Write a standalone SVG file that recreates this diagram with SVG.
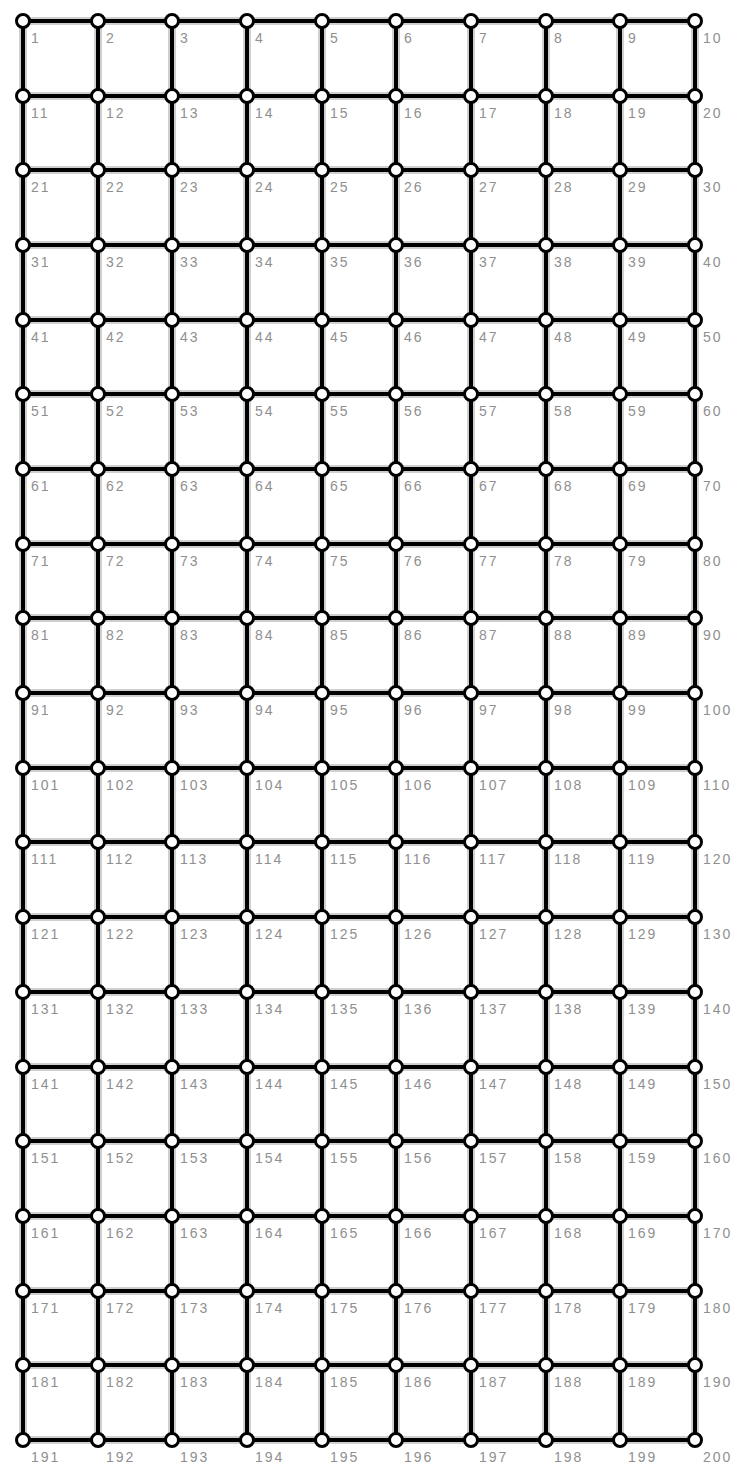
<svg xmlns="http://www.w3.org/2000/svg" width="740" height="1467" viewBox="0 0 740 1467">
<style>
.halo{stroke:#cfcfcf;stroke-width:8;fill:none;stroke-linecap:butt}
.edge{stroke:#000;stroke-width:4;fill:none}
.nd circle{fill:#fff;stroke:#000;stroke-width:3}
.nd text{font-family:"Liberation Sans",Arial,sans-serif;font-size:14px;fill:#8f8f8f;letter-spacing:2px}
</style>
<rect width="740" height="1467" fill="#fff"/>
<g id="connectors">
<path class="halo" d="M23 21H695M23 96H695M23 170H695M23 245H695M23 320H695M23 394H695M23 469H695M23 544H695M23 618H695M23 693H695M23 768H695M23 842H695M23 917H695M23 992H695M23 1067H695M23 1141H695M23 1216H695M23 1291H695M23 1365H695M23 1440H695M23 21V1440M98 21V1440M172 21V1440M247 21V1440M322 21V1440M396 21V1440M471 21V1440M546 21V1440M620 21V1440M695 21V1440"/>
<line class="edge" x1="23" y1="21" x2="98" y2="21"/><line class="edge" x1="98" y1="21" x2="172" y2="21"/><line class="edge" x1="172" y1="21" x2="247" y2="21"/><line class="edge" x1="247" y1="21" x2="322" y2="21"/><line class="edge" x1="322" y1="21" x2="396" y2="21"/><line class="edge" x1="396" y1="21" x2="471" y2="21"/><line class="edge" x1="471" y1="21" x2="546" y2="21"/><line class="edge" x1="546" y1="21" x2="620" y2="21"/><line class="edge" x1="620" y1="21" x2="695" y2="21"/>
<line class="edge" x1="23" y1="96" x2="98" y2="96"/><line class="edge" x1="98" y1="96" x2="172" y2="96"/><line class="edge" x1="172" y1="96" x2="247" y2="96"/><line class="edge" x1="247" y1="96" x2="322" y2="96"/><line class="edge" x1="322" y1="96" x2="396" y2="96"/><line class="edge" x1="396" y1="96" x2="471" y2="96"/><line class="edge" x1="471" y1="96" x2="546" y2="96"/><line class="edge" x1="546" y1="96" x2="620" y2="96"/><line class="edge" x1="620" y1="96" x2="695" y2="96"/>
<line class="edge" x1="23" y1="170" x2="98" y2="170"/><line class="edge" x1="98" y1="170" x2="172" y2="170"/><line class="edge" x1="172" y1="170" x2="247" y2="170"/><line class="edge" x1="247" y1="170" x2="322" y2="170"/><line class="edge" x1="322" y1="170" x2="396" y2="170"/><line class="edge" x1="396" y1="170" x2="471" y2="170"/><line class="edge" x1="471" y1="170" x2="546" y2="170"/><line class="edge" x1="546" y1="170" x2="620" y2="170"/><line class="edge" x1="620" y1="170" x2="695" y2="170"/>
<line class="edge" x1="23" y1="245" x2="98" y2="245"/><line class="edge" x1="98" y1="245" x2="172" y2="245"/><line class="edge" x1="172" y1="245" x2="247" y2="245"/><line class="edge" x1="247" y1="245" x2="322" y2="245"/><line class="edge" x1="322" y1="245" x2="396" y2="245"/><line class="edge" x1="396" y1="245" x2="471" y2="245"/><line class="edge" x1="471" y1="245" x2="546" y2="245"/><line class="edge" x1="546" y1="245" x2="620" y2="245"/><line class="edge" x1="620" y1="245" x2="695" y2="245"/>
<line class="edge" x1="23" y1="320" x2="98" y2="320"/><line class="edge" x1="98" y1="320" x2="172" y2="320"/><line class="edge" x1="172" y1="320" x2="247" y2="320"/><line class="edge" x1="247" y1="320" x2="322" y2="320"/><line class="edge" x1="322" y1="320" x2="396" y2="320"/><line class="edge" x1="396" y1="320" x2="471" y2="320"/><line class="edge" x1="471" y1="320" x2="546" y2="320"/><line class="edge" x1="546" y1="320" x2="620" y2="320"/><line class="edge" x1="620" y1="320" x2="695" y2="320"/>
<line class="edge" x1="23" y1="394" x2="98" y2="394"/><line class="edge" x1="98" y1="394" x2="172" y2="394"/><line class="edge" x1="172" y1="394" x2="247" y2="394"/><line class="edge" x1="247" y1="394" x2="322" y2="394"/><line class="edge" x1="322" y1="394" x2="396" y2="394"/><line class="edge" x1="396" y1="394" x2="471" y2="394"/><line class="edge" x1="471" y1="394" x2="546" y2="394"/><line class="edge" x1="546" y1="394" x2="620" y2="394"/><line class="edge" x1="620" y1="394" x2="695" y2="394"/>
<line class="edge" x1="23" y1="469" x2="98" y2="469"/><line class="edge" x1="98" y1="469" x2="172" y2="469"/><line class="edge" x1="172" y1="469" x2="247" y2="469"/><line class="edge" x1="247" y1="469" x2="322" y2="469"/><line class="edge" x1="322" y1="469" x2="396" y2="469"/><line class="edge" x1="396" y1="469" x2="471" y2="469"/><line class="edge" x1="471" y1="469" x2="546" y2="469"/><line class="edge" x1="546" y1="469" x2="620" y2="469"/><line class="edge" x1="620" y1="469" x2="695" y2="469"/>
<line class="edge" x1="23" y1="544" x2="98" y2="544"/><line class="edge" x1="98" y1="544" x2="172" y2="544"/><line class="edge" x1="172" y1="544" x2="247" y2="544"/><line class="edge" x1="247" y1="544" x2="322" y2="544"/><line class="edge" x1="322" y1="544" x2="396" y2="544"/><line class="edge" x1="396" y1="544" x2="471" y2="544"/><line class="edge" x1="471" y1="544" x2="546" y2="544"/><line class="edge" x1="546" y1="544" x2="620" y2="544"/><line class="edge" x1="620" y1="544" x2="695" y2="544"/>
<line class="edge" x1="23" y1="618" x2="98" y2="618"/><line class="edge" x1="98" y1="618" x2="172" y2="618"/><line class="edge" x1="172" y1="618" x2="247" y2="618"/><line class="edge" x1="247" y1="618" x2="322" y2="618"/><line class="edge" x1="322" y1="618" x2="396" y2="618"/><line class="edge" x1="396" y1="618" x2="471" y2="618"/><line class="edge" x1="471" y1="618" x2="546" y2="618"/><line class="edge" x1="546" y1="618" x2="620" y2="618"/><line class="edge" x1="620" y1="618" x2="695" y2="618"/>
<line class="edge" x1="23" y1="693" x2="98" y2="693"/><line class="edge" x1="98" y1="693" x2="172" y2="693"/><line class="edge" x1="172" y1="693" x2="247" y2="693"/><line class="edge" x1="247" y1="693" x2="322" y2="693"/><line class="edge" x1="322" y1="693" x2="396" y2="693"/><line class="edge" x1="396" y1="693" x2="471" y2="693"/><line class="edge" x1="471" y1="693" x2="546" y2="693"/><line class="edge" x1="546" y1="693" x2="620" y2="693"/><line class="edge" x1="620" y1="693" x2="695" y2="693"/>
<line class="edge" x1="23" y1="768" x2="98" y2="768"/><line class="edge" x1="98" y1="768" x2="172" y2="768"/><line class="edge" x1="172" y1="768" x2="247" y2="768"/><line class="edge" x1="247" y1="768" x2="322" y2="768"/><line class="edge" x1="322" y1="768" x2="396" y2="768"/><line class="edge" x1="396" y1="768" x2="471" y2="768"/><line class="edge" x1="471" y1="768" x2="546" y2="768"/><line class="edge" x1="546" y1="768" x2="620" y2="768"/><line class="edge" x1="620" y1="768" x2="695" y2="768"/>
<line class="edge" x1="23" y1="842" x2="98" y2="842"/><line class="edge" x1="98" y1="842" x2="172" y2="842"/><line class="edge" x1="172" y1="842" x2="247" y2="842"/><line class="edge" x1="247" y1="842" x2="322" y2="842"/><line class="edge" x1="322" y1="842" x2="396" y2="842"/><line class="edge" x1="396" y1="842" x2="471" y2="842"/><line class="edge" x1="471" y1="842" x2="546" y2="842"/><line class="edge" x1="546" y1="842" x2="620" y2="842"/><line class="edge" x1="620" y1="842" x2="695" y2="842"/>
<line class="edge" x1="23" y1="917" x2="98" y2="917"/><line class="edge" x1="98" y1="917" x2="172" y2="917"/><line class="edge" x1="172" y1="917" x2="247" y2="917"/><line class="edge" x1="247" y1="917" x2="322" y2="917"/><line class="edge" x1="322" y1="917" x2="396" y2="917"/><line class="edge" x1="396" y1="917" x2="471" y2="917"/><line class="edge" x1="471" y1="917" x2="546" y2="917"/><line class="edge" x1="546" y1="917" x2="620" y2="917"/><line class="edge" x1="620" y1="917" x2="695" y2="917"/>
<line class="edge" x1="23" y1="992" x2="98" y2="992"/><line class="edge" x1="98" y1="992" x2="172" y2="992"/><line class="edge" x1="172" y1="992" x2="247" y2="992"/><line class="edge" x1="247" y1="992" x2="322" y2="992"/><line class="edge" x1="322" y1="992" x2="396" y2="992"/><line class="edge" x1="396" y1="992" x2="471" y2="992"/><line class="edge" x1="471" y1="992" x2="546" y2="992"/><line class="edge" x1="546" y1="992" x2="620" y2="992"/><line class="edge" x1="620" y1="992" x2="695" y2="992"/>
<line class="edge" x1="23" y1="1067" x2="98" y2="1067"/><line class="edge" x1="98" y1="1067" x2="172" y2="1067"/><line class="edge" x1="172" y1="1067" x2="247" y2="1067"/><line class="edge" x1="247" y1="1067" x2="322" y2="1067"/><line class="edge" x1="322" y1="1067" x2="396" y2="1067"/><line class="edge" x1="396" y1="1067" x2="471" y2="1067"/><line class="edge" x1="471" y1="1067" x2="546" y2="1067"/><line class="edge" x1="546" y1="1067" x2="620" y2="1067"/><line class="edge" x1="620" y1="1067" x2="695" y2="1067"/>
<line class="edge" x1="23" y1="1141" x2="98" y2="1141"/><line class="edge" x1="98" y1="1141" x2="172" y2="1141"/><line class="edge" x1="172" y1="1141" x2="247" y2="1141"/><line class="edge" x1="247" y1="1141" x2="322" y2="1141"/><line class="edge" x1="322" y1="1141" x2="396" y2="1141"/><line class="edge" x1="396" y1="1141" x2="471" y2="1141"/><line class="edge" x1="471" y1="1141" x2="546" y2="1141"/><line class="edge" x1="546" y1="1141" x2="620" y2="1141"/><line class="edge" x1="620" y1="1141" x2="695" y2="1141"/>
<line class="edge" x1="23" y1="1216" x2="98" y2="1216"/><line class="edge" x1="98" y1="1216" x2="172" y2="1216"/><line class="edge" x1="172" y1="1216" x2="247" y2="1216"/><line class="edge" x1="247" y1="1216" x2="322" y2="1216"/><line class="edge" x1="322" y1="1216" x2="396" y2="1216"/><line class="edge" x1="396" y1="1216" x2="471" y2="1216"/><line class="edge" x1="471" y1="1216" x2="546" y2="1216"/><line class="edge" x1="546" y1="1216" x2="620" y2="1216"/><line class="edge" x1="620" y1="1216" x2="695" y2="1216"/>
<line class="edge" x1="23" y1="1291" x2="98" y2="1291"/><line class="edge" x1="98" y1="1291" x2="172" y2="1291"/><line class="edge" x1="172" y1="1291" x2="247" y2="1291"/><line class="edge" x1="247" y1="1291" x2="322" y2="1291"/><line class="edge" x1="322" y1="1291" x2="396" y2="1291"/><line class="edge" x1="396" y1="1291" x2="471" y2="1291"/><line class="edge" x1="471" y1="1291" x2="546" y2="1291"/><line class="edge" x1="546" y1="1291" x2="620" y2="1291"/><line class="edge" x1="620" y1="1291" x2="695" y2="1291"/>
<line class="edge" x1="23" y1="1365" x2="98" y2="1365"/><line class="edge" x1="98" y1="1365" x2="172" y2="1365"/><line class="edge" x1="172" y1="1365" x2="247" y2="1365"/><line class="edge" x1="247" y1="1365" x2="322" y2="1365"/><line class="edge" x1="322" y1="1365" x2="396" y2="1365"/><line class="edge" x1="396" y1="1365" x2="471" y2="1365"/><line class="edge" x1="471" y1="1365" x2="546" y2="1365"/><line class="edge" x1="546" y1="1365" x2="620" y2="1365"/><line class="edge" x1="620" y1="1365" x2="695" y2="1365"/>
<line class="edge" x1="23" y1="1440" x2="98" y2="1440"/><line class="edge" x1="98" y1="1440" x2="172" y2="1440"/><line class="edge" x1="172" y1="1440" x2="247" y2="1440"/><line class="edge" x1="247" y1="1440" x2="322" y2="1440"/><line class="edge" x1="322" y1="1440" x2="396" y2="1440"/><line class="edge" x1="396" y1="1440" x2="471" y2="1440"/><line class="edge" x1="471" y1="1440" x2="546" y2="1440"/><line class="edge" x1="546" y1="1440" x2="620" y2="1440"/><line class="edge" x1="620" y1="1440" x2="695" y2="1440"/>
<line class="edge" x1="23" y1="21" x2="23" y2="96"/><line class="edge" x1="23" y1="96" x2="23" y2="170"/><line class="edge" x1="23" y1="170" x2="23" y2="245"/><line class="edge" x1="23" y1="245" x2="23" y2="320"/><line class="edge" x1="23" y1="320" x2="23" y2="394"/><line class="edge" x1="23" y1="394" x2="23" y2="469"/><line class="edge" x1="23" y1="469" x2="23" y2="544"/><line class="edge" x1="23" y1="544" x2="23" y2="618"/><line class="edge" x1="23" y1="618" x2="23" y2="693"/><line class="edge" x1="23" y1="693" x2="23" y2="768"/><line class="edge" x1="23" y1="768" x2="23" y2="842"/><line class="edge" x1="23" y1="842" x2="23" y2="917"/><line class="edge" x1="23" y1="917" x2="23" y2="992"/><line class="edge" x1="23" y1="992" x2="23" y2="1067"/><line class="edge" x1="23" y1="1067" x2="23" y2="1141"/><line class="edge" x1="23" y1="1141" x2="23" y2="1216"/><line class="edge" x1="23" y1="1216" x2="23" y2="1291"/><line class="edge" x1="23" y1="1291" x2="23" y2="1365"/><line class="edge" x1="23" y1="1365" x2="23" y2="1440"/>
<line class="edge" x1="98" y1="21" x2="98" y2="96"/><line class="edge" x1="98" y1="96" x2="98" y2="170"/><line class="edge" x1="98" y1="170" x2="98" y2="245"/><line class="edge" x1="98" y1="245" x2="98" y2="320"/><line class="edge" x1="98" y1="320" x2="98" y2="394"/><line class="edge" x1="98" y1="394" x2="98" y2="469"/><line class="edge" x1="98" y1="469" x2="98" y2="544"/><line class="edge" x1="98" y1="544" x2="98" y2="618"/><line class="edge" x1="98" y1="618" x2="98" y2="693"/><line class="edge" x1="98" y1="693" x2="98" y2="768"/><line class="edge" x1="98" y1="768" x2="98" y2="842"/><line class="edge" x1="98" y1="842" x2="98" y2="917"/><line class="edge" x1="98" y1="917" x2="98" y2="992"/><line class="edge" x1="98" y1="992" x2="98" y2="1067"/><line class="edge" x1="98" y1="1067" x2="98" y2="1141"/><line class="edge" x1="98" y1="1141" x2="98" y2="1216"/><line class="edge" x1="98" y1="1216" x2="98" y2="1291"/><line class="edge" x1="98" y1="1291" x2="98" y2="1365"/><line class="edge" x1="98" y1="1365" x2="98" y2="1440"/>
<line class="edge" x1="172" y1="21" x2="172" y2="96"/><line class="edge" x1="172" y1="96" x2="172" y2="170"/><line class="edge" x1="172" y1="170" x2="172" y2="245"/><line class="edge" x1="172" y1="245" x2="172" y2="320"/><line class="edge" x1="172" y1="320" x2="172" y2="394"/><line class="edge" x1="172" y1="394" x2="172" y2="469"/><line class="edge" x1="172" y1="469" x2="172" y2="544"/><line class="edge" x1="172" y1="544" x2="172" y2="618"/><line class="edge" x1="172" y1="618" x2="172" y2="693"/><line class="edge" x1="172" y1="693" x2="172" y2="768"/><line class="edge" x1="172" y1="768" x2="172" y2="842"/><line class="edge" x1="172" y1="842" x2="172" y2="917"/><line class="edge" x1="172" y1="917" x2="172" y2="992"/><line class="edge" x1="172" y1="992" x2="172" y2="1067"/><line class="edge" x1="172" y1="1067" x2="172" y2="1141"/><line class="edge" x1="172" y1="1141" x2="172" y2="1216"/><line class="edge" x1="172" y1="1216" x2="172" y2="1291"/><line class="edge" x1="172" y1="1291" x2="172" y2="1365"/><line class="edge" x1="172" y1="1365" x2="172" y2="1440"/>
<line class="edge" x1="247" y1="21" x2="247" y2="96"/><line class="edge" x1="247" y1="96" x2="247" y2="170"/><line class="edge" x1="247" y1="170" x2="247" y2="245"/><line class="edge" x1="247" y1="245" x2="247" y2="320"/><line class="edge" x1="247" y1="320" x2="247" y2="394"/><line class="edge" x1="247" y1="394" x2="247" y2="469"/><line class="edge" x1="247" y1="469" x2="247" y2="544"/><line class="edge" x1="247" y1="544" x2="247" y2="618"/><line class="edge" x1="247" y1="618" x2="247" y2="693"/><line class="edge" x1="247" y1="693" x2="247" y2="768"/><line class="edge" x1="247" y1="768" x2="247" y2="842"/><line class="edge" x1="247" y1="842" x2="247" y2="917"/><line class="edge" x1="247" y1="917" x2="247" y2="992"/><line class="edge" x1="247" y1="992" x2="247" y2="1067"/><line class="edge" x1="247" y1="1067" x2="247" y2="1141"/><line class="edge" x1="247" y1="1141" x2="247" y2="1216"/><line class="edge" x1="247" y1="1216" x2="247" y2="1291"/><line class="edge" x1="247" y1="1291" x2="247" y2="1365"/><line class="edge" x1="247" y1="1365" x2="247" y2="1440"/>
<line class="edge" x1="322" y1="21" x2="322" y2="96"/><line class="edge" x1="322" y1="96" x2="322" y2="170"/><line class="edge" x1="322" y1="170" x2="322" y2="245"/><line class="edge" x1="322" y1="245" x2="322" y2="320"/><line class="edge" x1="322" y1="320" x2="322" y2="394"/><line class="edge" x1="322" y1="394" x2="322" y2="469"/><line class="edge" x1="322" y1="469" x2="322" y2="544"/><line class="edge" x1="322" y1="544" x2="322" y2="618"/><line class="edge" x1="322" y1="618" x2="322" y2="693"/><line class="edge" x1="322" y1="693" x2="322" y2="768"/><line class="edge" x1="322" y1="768" x2="322" y2="842"/><line class="edge" x1="322" y1="842" x2="322" y2="917"/><line class="edge" x1="322" y1="917" x2="322" y2="992"/><line class="edge" x1="322" y1="992" x2="322" y2="1067"/><line class="edge" x1="322" y1="1067" x2="322" y2="1141"/><line class="edge" x1="322" y1="1141" x2="322" y2="1216"/><line class="edge" x1="322" y1="1216" x2="322" y2="1291"/><line class="edge" x1="322" y1="1291" x2="322" y2="1365"/><line class="edge" x1="322" y1="1365" x2="322" y2="1440"/>
<line class="edge" x1="396" y1="21" x2="396" y2="96"/><line class="edge" x1="396" y1="96" x2="396" y2="170"/><line class="edge" x1="396" y1="170" x2="396" y2="245"/><line class="edge" x1="396" y1="245" x2="396" y2="320"/><line class="edge" x1="396" y1="320" x2="396" y2="394"/><line class="edge" x1="396" y1="394" x2="396" y2="469"/><line class="edge" x1="396" y1="469" x2="396" y2="544"/><line class="edge" x1="396" y1="544" x2="396" y2="618"/><line class="edge" x1="396" y1="618" x2="396" y2="693"/><line class="edge" x1="396" y1="693" x2="396" y2="768"/><line class="edge" x1="396" y1="768" x2="396" y2="842"/><line class="edge" x1="396" y1="842" x2="396" y2="917"/><line class="edge" x1="396" y1="917" x2="396" y2="992"/><line class="edge" x1="396" y1="992" x2="396" y2="1067"/><line class="edge" x1="396" y1="1067" x2="396" y2="1141"/><line class="edge" x1="396" y1="1141" x2="396" y2="1216"/><line class="edge" x1="396" y1="1216" x2="396" y2="1291"/><line class="edge" x1="396" y1="1291" x2="396" y2="1365"/><line class="edge" x1="396" y1="1365" x2="396" y2="1440"/>
<line class="edge" x1="471" y1="21" x2="471" y2="96"/><line class="edge" x1="471" y1="96" x2="471" y2="170"/><line class="edge" x1="471" y1="170" x2="471" y2="245"/><line class="edge" x1="471" y1="245" x2="471" y2="320"/><line class="edge" x1="471" y1="320" x2="471" y2="394"/><line class="edge" x1="471" y1="394" x2="471" y2="469"/><line class="edge" x1="471" y1="469" x2="471" y2="544"/><line class="edge" x1="471" y1="544" x2="471" y2="618"/><line class="edge" x1="471" y1="618" x2="471" y2="693"/><line class="edge" x1="471" y1="693" x2="471" y2="768"/><line class="edge" x1="471" y1="768" x2="471" y2="842"/><line class="edge" x1="471" y1="842" x2="471" y2="917"/><line class="edge" x1="471" y1="917" x2="471" y2="992"/><line class="edge" x1="471" y1="992" x2="471" y2="1067"/><line class="edge" x1="471" y1="1067" x2="471" y2="1141"/><line class="edge" x1="471" y1="1141" x2="471" y2="1216"/><line class="edge" x1="471" y1="1216" x2="471" y2="1291"/><line class="edge" x1="471" y1="1291" x2="471" y2="1365"/><line class="edge" x1="471" y1="1365" x2="471" y2="1440"/>
<line class="edge" x1="546" y1="21" x2="546" y2="96"/><line class="edge" x1="546" y1="96" x2="546" y2="170"/><line class="edge" x1="546" y1="170" x2="546" y2="245"/><line class="edge" x1="546" y1="245" x2="546" y2="320"/><line class="edge" x1="546" y1="320" x2="546" y2="394"/><line class="edge" x1="546" y1="394" x2="546" y2="469"/><line class="edge" x1="546" y1="469" x2="546" y2="544"/><line class="edge" x1="546" y1="544" x2="546" y2="618"/><line class="edge" x1="546" y1="618" x2="546" y2="693"/><line class="edge" x1="546" y1="693" x2="546" y2="768"/><line class="edge" x1="546" y1="768" x2="546" y2="842"/><line class="edge" x1="546" y1="842" x2="546" y2="917"/><line class="edge" x1="546" y1="917" x2="546" y2="992"/><line class="edge" x1="546" y1="992" x2="546" y2="1067"/><line class="edge" x1="546" y1="1067" x2="546" y2="1141"/><line class="edge" x1="546" y1="1141" x2="546" y2="1216"/><line class="edge" x1="546" y1="1216" x2="546" y2="1291"/><line class="edge" x1="546" y1="1291" x2="546" y2="1365"/><line class="edge" x1="546" y1="1365" x2="546" y2="1440"/>
<line class="edge" x1="620" y1="21" x2="620" y2="96"/><line class="edge" x1="620" y1="96" x2="620" y2="170"/><line class="edge" x1="620" y1="170" x2="620" y2="245"/><line class="edge" x1="620" y1="245" x2="620" y2="320"/><line class="edge" x1="620" y1="320" x2="620" y2="394"/><line class="edge" x1="620" y1="394" x2="620" y2="469"/><line class="edge" x1="620" y1="469" x2="620" y2="544"/><line class="edge" x1="620" y1="544" x2="620" y2="618"/><line class="edge" x1="620" y1="618" x2="620" y2="693"/><line class="edge" x1="620" y1="693" x2="620" y2="768"/><line class="edge" x1="620" y1="768" x2="620" y2="842"/><line class="edge" x1="620" y1="842" x2="620" y2="917"/><line class="edge" x1="620" y1="917" x2="620" y2="992"/><line class="edge" x1="620" y1="992" x2="620" y2="1067"/><line class="edge" x1="620" y1="1067" x2="620" y2="1141"/><line class="edge" x1="620" y1="1141" x2="620" y2="1216"/><line class="edge" x1="620" y1="1216" x2="620" y2="1291"/><line class="edge" x1="620" y1="1291" x2="620" y2="1365"/><line class="edge" x1="620" y1="1365" x2="620" y2="1440"/>
<line class="edge" x1="695" y1="21" x2="695" y2="96"/><line class="edge" x1="695" y1="96" x2="695" y2="170"/><line class="edge" x1="695" y1="170" x2="695" y2="245"/><line class="edge" x1="695" y1="245" x2="695" y2="320"/><line class="edge" x1="695" y1="320" x2="695" y2="394"/><line class="edge" x1="695" y1="394" x2="695" y2="469"/><line class="edge" x1="695" y1="469" x2="695" y2="544"/><line class="edge" x1="695" y1="544" x2="695" y2="618"/><line class="edge" x1="695" y1="618" x2="695" y2="693"/><line class="edge" x1="695" y1="693" x2="695" y2="768"/><line class="edge" x1="695" y1="768" x2="695" y2="842"/><line class="edge" x1="695" y1="842" x2="695" y2="917"/><line class="edge" x1="695" y1="917" x2="695" y2="992"/><line class="edge" x1="695" y1="992" x2="695" y2="1067"/><line class="edge" x1="695" y1="1067" x2="695" y2="1141"/><line class="edge" x1="695" y1="1141" x2="695" y2="1216"/><line class="edge" x1="695" y1="1216" x2="695" y2="1291"/><line class="edge" x1="695" y1="1291" x2="695" y2="1365"/><line class="edge" x1="695" y1="1365" x2="695" y2="1440"/>
</g>
<g id="nodes">
<g id="n1" class="nd" transform="translate(23,21)"><circle r="6.5"/><text x="8" y="22">1</text></g>
<g id="n2" class="nd" transform="translate(98,21)"><circle r="6.5"/><text x="8" y="22">2</text></g>
<g id="n3" class="nd" transform="translate(172,21)"><circle r="6.5"/><text x="8" y="22">3</text></g>
<g id="n4" class="nd" transform="translate(247,21)"><circle r="6.5"/><text x="8" y="22">4</text></g>
<g id="n5" class="nd" transform="translate(322,21)"><circle r="6.5"/><text x="8" y="22">5</text></g>
<g id="n6" class="nd" transform="translate(396,21)"><circle r="6.5"/><text x="8" y="22">6</text></g>
<g id="n7" class="nd" transform="translate(471,21)"><circle r="6.5"/><text x="8" y="22">7</text></g>
<g id="n8" class="nd" transform="translate(546,21)"><circle r="6.5"/><text x="8" y="22">8</text></g>
<g id="n9" class="nd" transform="translate(620,21)"><circle r="6.5"/><text x="8" y="22">9</text></g>
<g id="n10" class="nd" transform="translate(695,21)"><circle r="6.5"/><text x="8" y="22">10</text></g>
<g id="n11" class="nd" transform="translate(23,96)"><circle r="6.5"/><text x="8" y="22">11</text></g>
<g id="n12" class="nd" transform="translate(98,96)"><circle r="6.5"/><text x="8" y="22">12</text></g>
<g id="n13" class="nd" transform="translate(172,96)"><circle r="6.5"/><text x="8" y="22">13</text></g>
<g id="n14" class="nd" transform="translate(247,96)"><circle r="6.5"/><text x="8" y="22">14</text></g>
<g id="n15" class="nd" transform="translate(322,96)"><circle r="6.5"/><text x="8" y="22">15</text></g>
<g id="n16" class="nd" transform="translate(396,96)"><circle r="6.5"/><text x="8" y="22">16</text></g>
<g id="n17" class="nd" transform="translate(471,96)"><circle r="6.5"/><text x="8" y="22">17</text></g>
<g id="n18" class="nd" transform="translate(546,96)"><circle r="6.5"/><text x="8" y="22">18</text></g>
<g id="n19" class="nd" transform="translate(620,96)"><circle r="6.5"/><text x="8" y="22">19</text></g>
<g id="n20" class="nd" transform="translate(695,96)"><circle r="6.5"/><text x="8" y="22">20</text></g>
<g id="n21" class="nd" transform="translate(23,170)"><circle r="6.5"/><text x="8" y="22">21</text></g>
<g id="n22" class="nd" transform="translate(98,170)"><circle r="6.5"/><text x="8" y="22">22</text></g>
<g id="n23" class="nd" transform="translate(172,170)"><circle r="6.5"/><text x="8" y="22">23</text></g>
<g id="n24" class="nd" transform="translate(247,170)"><circle r="6.5"/><text x="8" y="22">24</text></g>
<g id="n25" class="nd" transform="translate(322,170)"><circle r="6.5"/><text x="8" y="22">25</text></g>
<g id="n26" class="nd" transform="translate(396,170)"><circle r="6.5"/><text x="8" y="22">26</text></g>
<g id="n27" class="nd" transform="translate(471,170)"><circle r="6.5"/><text x="8" y="22">27</text></g>
<g id="n28" class="nd" transform="translate(546,170)"><circle r="6.5"/><text x="8" y="22">28</text></g>
<g id="n29" class="nd" transform="translate(620,170)"><circle r="6.5"/><text x="8" y="22">29</text></g>
<g id="n30" class="nd" transform="translate(695,170)"><circle r="6.5"/><text x="8" y="22">30</text></g>
<g id="n31" class="nd" transform="translate(23,245)"><circle r="6.5"/><text x="8" y="22">31</text></g>
<g id="n32" class="nd" transform="translate(98,245)"><circle r="6.5"/><text x="8" y="22">32</text></g>
<g id="n33" class="nd" transform="translate(172,245)"><circle r="6.5"/><text x="8" y="22">33</text></g>
<g id="n34" class="nd" transform="translate(247,245)"><circle r="6.5"/><text x="8" y="22">34</text></g>
<g id="n35" class="nd" transform="translate(322,245)"><circle r="6.5"/><text x="8" y="22">35</text></g>
<g id="n36" class="nd" transform="translate(396,245)"><circle r="6.5"/><text x="8" y="22">36</text></g>
<g id="n37" class="nd" transform="translate(471,245)"><circle r="6.5"/><text x="8" y="22">37</text></g>
<g id="n38" class="nd" transform="translate(546,245)"><circle r="6.5"/><text x="8" y="22">38</text></g>
<g id="n39" class="nd" transform="translate(620,245)"><circle r="6.5"/><text x="8" y="22">39</text></g>
<g id="n40" class="nd" transform="translate(695,245)"><circle r="6.5"/><text x="8" y="22">40</text></g>
<g id="n41" class="nd" transform="translate(23,320)"><circle r="6.5"/><text x="8" y="22">41</text></g>
<g id="n42" class="nd" transform="translate(98,320)"><circle r="6.5"/><text x="8" y="22">42</text></g>
<g id="n43" class="nd" transform="translate(172,320)"><circle r="6.5"/><text x="8" y="22">43</text></g>
<g id="n44" class="nd" transform="translate(247,320)"><circle r="6.5"/><text x="8" y="22">44</text></g>
<g id="n45" class="nd" transform="translate(322,320)"><circle r="6.5"/><text x="8" y="22">45</text></g>
<g id="n46" class="nd" transform="translate(396,320)"><circle r="6.5"/><text x="8" y="22">46</text></g>
<g id="n47" class="nd" transform="translate(471,320)"><circle r="6.5"/><text x="8" y="22">47</text></g>
<g id="n48" class="nd" transform="translate(546,320)"><circle r="6.5"/><text x="8" y="22">48</text></g>
<g id="n49" class="nd" transform="translate(620,320)"><circle r="6.5"/><text x="8" y="22">49</text></g>
<g id="n50" class="nd" transform="translate(695,320)"><circle r="6.5"/><text x="8" y="22">50</text></g>
<g id="n51" class="nd" transform="translate(23,394)"><circle r="6.5"/><text x="8" y="22">51</text></g>
<g id="n52" class="nd" transform="translate(98,394)"><circle r="6.5"/><text x="8" y="22">52</text></g>
<g id="n53" class="nd" transform="translate(172,394)"><circle r="6.5"/><text x="8" y="22">53</text></g>
<g id="n54" class="nd" transform="translate(247,394)"><circle r="6.5"/><text x="8" y="22">54</text></g>
<g id="n55" class="nd" transform="translate(322,394)"><circle r="6.5"/><text x="8" y="22">55</text></g>
<g id="n56" class="nd" transform="translate(396,394)"><circle r="6.5"/><text x="8" y="22">56</text></g>
<g id="n57" class="nd" transform="translate(471,394)"><circle r="6.5"/><text x="8" y="22">57</text></g>
<g id="n58" class="nd" transform="translate(546,394)"><circle r="6.5"/><text x="8" y="22">58</text></g>
<g id="n59" class="nd" transform="translate(620,394)"><circle r="6.5"/><text x="8" y="22">59</text></g>
<g id="n60" class="nd" transform="translate(695,394)"><circle r="6.5"/><text x="8" y="22">60</text></g>
<g id="n61" class="nd" transform="translate(23,469)"><circle r="6.5"/><text x="8" y="22">61</text></g>
<g id="n62" class="nd" transform="translate(98,469)"><circle r="6.5"/><text x="8" y="22">62</text></g>
<g id="n63" class="nd" transform="translate(172,469)"><circle r="6.5"/><text x="8" y="22">63</text></g>
<g id="n64" class="nd" transform="translate(247,469)"><circle r="6.5"/><text x="8" y="22">64</text></g>
<g id="n65" class="nd" transform="translate(322,469)"><circle r="6.5"/><text x="8" y="22">65</text></g>
<g id="n66" class="nd" transform="translate(396,469)"><circle r="6.5"/><text x="8" y="22">66</text></g>
<g id="n67" class="nd" transform="translate(471,469)"><circle r="6.5"/><text x="8" y="22">67</text></g>
<g id="n68" class="nd" transform="translate(546,469)"><circle r="6.5"/><text x="8" y="22">68</text></g>
<g id="n69" class="nd" transform="translate(620,469)"><circle r="6.5"/><text x="8" y="22">69</text></g>
<g id="n70" class="nd" transform="translate(695,469)"><circle r="6.5"/><text x="8" y="22">70</text></g>
<g id="n71" class="nd" transform="translate(23,544)"><circle r="6.5"/><text x="8" y="22">71</text></g>
<g id="n72" class="nd" transform="translate(98,544)"><circle r="6.5"/><text x="8" y="22">72</text></g>
<g id="n73" class="nd" transform="translate(172,544)"><circle r="6.5"/><text x="8" y="22">73</text></g>
<g id="n74" class="nd" transform="translate(247,544)"><circle r="6.5"/><text x="8" y="22">74</text></g>
<g id="n75" class="nd" transform="translate(322,544)"><circle r="6.5"/><text x="8" y="22">75</text></g>
<g id="n76" class="nd" transform="translate(396,544)"><circle r="6.5"/><text x="8" y="22">76</text></g>
<g id="n77" class="nd" transform="translate(471,544)"><circle r="6.5"/><text x="8" y="22">77</text></g>
<g id="n78" class="nd" transform="translate(546,544)"><circle r="6.5"/><text x="8" y="22">78</text></g>
<g id="n79" class="nd" transform="translate(620,544)"><circle r="6.5"/><text x="8" y="22">79</text></g>
<g id="n80" class="nd" transform="translate(695,544)"><circle r="6.5"/><text x="8" y="22">80</text></g>
<g id="n81" class="nd" transform="translate(23,618)"><circle r="6.5"/><text x="8" y="22">81</text></g>
<g id="n82" class="nd" transform="translate(98,618)"><circle r="6.5"/><text x="8" y="22">82</text></g>
<g id="n83" class="nd" transform="translate(172,618)"><circle r="6.5"/><text x="8" y="22">83</text></g>
<g id="n84" class="nd" transform="translate(247,618)"><circle r="6.5"/><text x="8" y="22">84</text></g>
<g id="n85" class="nd" transform="translate(322,618)"><circle r="6.5"/><text x="8" y="22">85</text></g>
<g id="n86" class="nd" transform="translate(396,618)"><circle r="6.5"/><text x="8" y="22">86</text></g>
<g id="n87" class="nd" transform="translate(471,618)"><circle r="6.5"/><text x="8" y="22">87</text></g>
<g id="n88" class="nd" transform="translate(546,618)"><circle r="6.5"/><text x="8" y="22">88</text></g>
<g id="n89" class="nd" transform="translate(620,618)"><circle r="6.5"/><text x="8" y="22">89</text></g>
<g id="n90" class="nd" transform="translate(695,618)"><circle r="6.5"/><text x="8" y="22">90</text></g>
<g id="n91" class="nd" transform="translate(23,693)"><circle r="6.5"/><text x="8" y="22">91</text></g>
<g id="n92" class="nd" transform="translate(98,693)"><circle r="6.5"/><text x="8" y="22">92</text></g>
<g id="n93" class="nd" transform="translate(172,693)"><circle r="6.5"/><text x="8" y="22">93</text></g>
<g id="n94" class="nd" transform="translate(247,693)"><circle r="6.5"/><text x="8" y="22">94</text></g>
<g id="n95" class="nd" transform="translate(322,693)"><circle r="6.5"/><text x="8" y="22">95</text></g>
<g id="n96" class="nd" transform="translate(396,693)"><circle r="6.5"/><text x="8" y="22">96</text></g>
<g id="n97" class="nd" transform="translate(471,693)"><circle r="6.5"/><text x="8" y="22">97</text></g>
<g id="n98" class="nd" transform="translate(546,693)"><circle r="6.5"/><text x="8" y="22">98</text></g>
<g id="n99" class="nd" transform="translate(620,693)"><circle r="6.5"/><text x="8" y="22">99</text></g>
<g id="n100" class="nd" transform="translate(695,693)"><circle r="6.5"/><text x="8" y="22">100</text></g>
<g id="n101" class="nd" transform="translate(23,768)"><circle r="6.5"/><text x="8" y="22">101</text></g>
<g id="n102" class="nd" transform="translate(98,768)"><circle r="6.5"/><text x="8" y="22">102</text></g>
<g id="n103" class="nd" transform="translate(172,768)"><circle r="6.5"/><text x="8" y="22">103</text></g>
<g id="n104" class="nd" transform="translate(247,768)"><circle r="6.5"/><text x="8" y="22">104</text></g>
<g id="n105" class="nd" transform="translate(322,768)"><circle r="6.5"/><text x="8" y="22">105</text></g>
<g id="n106" class="nd" transform="translate(396,768)"><circle r="6.5"/><text x="8" y="22">106</text></g>
<g id="n107" class="nd" transform="translate(471,768)"><circle r="6.5"/><text x="8" y="22">107</text></g>
<g id="n108" class="nd" transform="translate(546,768)"><circle r="6.5"/><text x="8" y="22">108</text></g>
<g id="n109" class="nd" transform="translate(620,768)"><circle r="6.5"/><text x="8" y="22">109</text></g>
<g id="n110" class="nd" transform="translate(695,768)"><circle r="6.5"/><text x="8" y="22">110</text></g>
<g id="n111" class="nd" transform="translate(23,842)"><circle r="6.5"/><text x="8" y="22">111</text></g>
<g id="n112" class="nd" transform="translate(98,842)"><circle r="6.5"/><text x="8" y="22">112</text></g>
<g id="n113" class="nd" transform="translate(172,842)"><circle r="6.5"/><text x="8" y="22">113</text></g>
<g id="n114" class="nd" transform="translate(247,842)"><circle r="6.5"/><text x="8" y="22">114</text></g>
<g id="n115" class="nd" transform="translate(322,842)"><circle r="6.5"/><text x="8" y="22">115</text></g>
<g id="n116" class="nd" transform="translate(396,842)"><circle r="6.5"/><text x="8" y="22">116</text></g>
<g id="n117" class="nd" transform="translate(471,842)"><circle r="6.5"/><text x="8" y="22">117</text></g>
<g id="n118" class="nd" transform="translate(546,842)"><circle r="6.5"/><text x="8" y="22">118</text></g>
<g id="n119" class="nd" transform="translate(620,842)"><circle r="6.5"/><text x="8" y="22">119</text></g>
<g id="n120" class="nd" transform="translate(695,842)"><circle r="6.5"/><text x="8" y="22">120</text></g>
<g id="n121" class="nd" transform="translate(23,917)"><circle r="6.5"/><text x="8" y="22">121</text></g>
<g id="n122" class="nd" transform="translate(98,917)"><circle r="6.5"/><text x="8" y="22">122</text></g>
<g id="n123" class="nd" transform="translate(172,917)"><circle r="6.5"/><text x="8" y="22">123</text></g>
<g id="n124" class="nd" transform="translate(247,917)"><circle r="6.5"/><text x="8" y="22">124</text></g>
<g id="n125" class="nd" transform="translate(322,917)"><circle r="6.5"/><text x="8" y="22">125</text></g>
<g id="n126" class="nd" transform="translate(396,917)"><circle r="6.5"/><text x="8" y="22">126</text></g>
<g id="n127" class="nd" transform="translate(471,917)"><circle r="6.5"/><text x="8" y="22">127</text></g>
<g id="n128" class="nd" transform="translate(546,917)"><circle r="6.5"/><text x="8" y="22">128</text></g>
<g id="n129" class="nd" transform="translate(620,917)"><circle r="6.5"/><text x="8" y="22">129</text></g>
<g id="n130" class="nd" transform="translate(695,917)"><circle r="6.5"/><text x="8" y="22">130</text></g>
<g id="n131" class="nd" transform="translate(23,992)"><circle r="6.5"/><text x="8" y="22">131</text></g>
<g id="n132" class="nd" transform="translate(98,992)"><circle r="6.5"/><text x="8" y="22">132</text></g>
<g id="n133" class="nd" transform="translate(172,992)"><circle r="6.5"/><text x="8" y="22">133</text></g>
<g id="n134" class="nd" transform="translate(247,992)"><circle r="6.5"/><text x="8" y="22">134</text></g>
<g id="n135" class="nd" transform="translate(322,992)"><circle r="6.5"/><text x="8" y="22">135</text></g>
<g id="n136" class="nd" transform="translate(396,992)"><circle r="6.5"/><text x="8" y="22">136</text></g>
<g id="n137" class="nd" transform="translate(471,992)"><circle r="6.5"/><text x="8" y="22">137</text></g>
<g id="n138" class="nd" transform="translate(546,992)"><circle r="6.5"/><text x="8" y="22">138</text></g>
<g id="n139" class="nd" transform="translate(620,992)"><circle r="6.5"/><text x="8" y="22">139</text></g>
<g id="n140" class="nd" transform="translate(695,992)"><circle r="6.5"/><text x="8" y="22">140</text></g>
<g id="n141" class="nd" transform="translate(23,1067)"><circle r="6.5"/><text x="8" y="22">141</text></g>
<g id="n142" class="nd" transform="translate(98,1067)"><circle r="6.5"/><text x="8" y="22">142</text></g>
<g id="n143" class="nd" transform="translate(172,1067)"><circle r="6.5"/><text x="8" y="22">143</text></g>
<g id="n144" class="nd" transform="translate(247,1067)"><circle r="6.5"/><text x="8" y="22">144</text></g>
<g id="n145" class="nd" transform="translate(322,1067)"><circle r="6.5"/><text x="8" y="22">145</text></g>
<g id="n146" class="nd" transform="translate(396,1067)"><circle r="6.5"/><text x="8" y="22">146</text></g>
<g id="n147" class="nd" transform="translate(471,1067)"><circle r="6.5"/><text x="8" y="22">147</text></g>
<g id="n148" class="nd" transform="translate(546,1067)"><circle r="6.5"/><text x="8" y="22">148</text></g>
<g id="n149" class="nd" transform="translate(620,1067)"><circle r="6.5"/><text x="8" y="22">149</text></g>
<g id="n150" class="nd" transform="translate(695,1067)"><circle r="6.5"/><text x="8" y="22">150</text></g>
<g id="n151" class="nd" transform="translate(23,1141)"><circle r="6.5"/><text x="8" y="22">151</text></g>
<g id="n152" class="nd" transform="translate(98,1141)"><circle r="6.5"/><text x="8" y="22">152</text></g>
<g id="n153" class="nd" transform="translate(172,1141)"><circle r="6.5"/><text x="8" y="22">153</text></g>
<g id="n154" class="nd" transform="translate(247,1141)"><circle r="6.5"/><text x="8" y="22">154</text></g>
<g id="n155" class="nd" transform="translate(322,1141)"><circle r="6.5"/><text x="8" y="22">155</text></g>
<g id="n156" class="nd" transform="translate(396,1141)"><circle r="6.5"/><text x="8" y="22">156</text></g>
<g id="n157" class="nd" transform="translate(471,1141)"><circle r="6.5"/><text x="8" y="22">157</text></g>
<g id="n158" class="nd" transform="translate(546,1141)"><circle r="6.5"/><text x="8" y="22">158</text></g>
<g id="n159" class="nd" transform="translate(620,1141)"><circle r="6.5"/><text x="8" y="22">159</text></g>
<g id="n160" class="nd" transform="translate(695,1141)"><circle r="6.5"/><text x="8" y="22">160</text></g>
<g id="n161" class="nd" transform="translate(23,1216)"><circle r="6.5"/><text x="8" y="22">161</text></g>
<g id="n162" class="nd" transform="translate(98,1216)"><circle r="6.5"/><text x="8" y="22">162</text></g>
<g id="n163" class="nd" transform="translate(172,1216)"><circle r="6.5"/><text x="8" y="22">163</text></g>
<g id="n164" class="nd" transform="translate(247,1216)"><circle r="6.5"/><text x="8" y="22">164</text></g>
<g id="n165" class="nd" transform="translate(322,1216)"><circle r="6.5"/><text x="8" y="22">165</text></g>
<g id="n166" class="nd" transform="translate(396,1216)"><circle r="6.5"/><text x="8" y="22">166</text></g>
<g id="n167" class="nd" transform="translate(471,1216)"><circle r="6.5"/><text x="8" y="22">167</text></g>
<g id="n168" class="nd" transform="translate(546,1216)"><circle r="6.5"/><text x="8" y="22">168</text></g>
<g id="n169" class="nd" transform="translate(620,1216)"><circle r="6.5"/><text x="8" y="22">169</text></g>
<g id="n170" class="nd" transform="translate(695,1216)"><circle r="6.5"/><text x="8" y="22">170</text></g>
<g id="n171" class="nd" transform="translate(23,1291)"><circle r="6.5"/><text x="8" y="22">171</text></g>
<g id="n172" class="nd" transform="translate(98,1291)"><circle r="6.5"/><text x="8" y="22">172</text></g>
<g id="n173" class="nd" transform="translate(172,1291)"><circle r="6.5"/><text x="8" y="22">173</text></g>
<g id="n174" class="nd" transform="translate(247,1291)"><circle r="6.5"/><text x="8" y="22">174</text></g>
<g id="n175" class="nd" transform="translate(322,1291)"><circle r="6.5"/><text x="8" y="22">175</text></g>
<g id="n176" class="nd" transform="translate(396,1291)"><circle r="6.5"/><text x="8" y="22">176</text></g>
<g id="n177" class="nd" transform="translate(471,1291)"><circle r="6.5"/><text x="8" y="22">177</text></g>
<g id="n178" class="nd" transform="translate(546,1291)"><circle r="6.5"/><text x="8" y="22">178</text></g>
<g id="n179" class="nd" transform="translate(620,1291)"><circle r="6.5"/><text x="8" y="22">179</text></g>
<g id="n180" class="nd" transform="translate(695,1291)"><circle r="6.5"/><text x="8" y="22">180</text></g>
<g id="n181" class="nd" transform="translate(23,1365)"><circle r="6.5"/><text x="8" y="22">181</text></g>
<g id="n182" class="nd" transform="translate(98,1365)"><circle r="6.5"/><text x="8" y="22">182</text></g>
<g id="n183" class="nd" transform="translate(172,1365)"><circle r="6.5"/><text x="8" y="22">183</text></g>
<g id="n184" class="nd" transform="translate(247,1365)"><circle r="6.5"/><text x="8" y="22">184</text></g>
<g id="n185" class="nd" transform="translate(322,1365)"><circle r="6.5"/><text x="8" y="22">185</text></g>
<g id="n186" class="nd" transform="translate(396,1365)"><circle r="6.5"/><text x="8" y="22">186</text></g>
<g id="n187" class="nd" transform="translate(471,1365)"><circle r="6.5"/><text x="8" y="22">187</text></g>
<g id="n188" class="nd" transform="translate(546,1365)"><circle r="6.5"/><text x="8" y="22">188</text></g>
<g id="n189" class="nd" transform="translate(620,1365)"><circle r="6.5"/><text x="8" y="22">189</text></g>
<g id="n190" class="nd" transform="translate(695,1365)"><circle r="6.5"/><text x="8" y="22">190</text></g>
<g id="n191" class="nd" transform="translate(23,1440)"><circle r="6.5"/><text x="8" y="22">191</text></g>
<g id="n192" class="nd" transform="translate(98,1440)"><circle r="6.5"/><text x="8" y="22">192</text></g>
<g id="n193" class="nd" transform="translate(172,1440)"><circle r="6.5"/><text x="8" y="22">193</text></g>
<g id="n194" class="nd" transform="translate(247,1440)"><circle r="6.5"/><text x="8" y="22">194</text></g>
<g id="n195" class="nd" transform="translate(322,1440)"><circle r="6.5"/><text x="8" y="22">195</text></g>
<g id="n196" class="nd" transform="translate(396,1440)"><circle r="6.5"/><text x="8" y="22">196</text></g>
<g id="n197" class="nd" transform="translate(471,1440)"><circle r="6.5"/><text x="8" y="22">197</text></g>
<g id="n198" class="nd" transform="translate(546,1440)"><circle r="6.5"/><text x="8" y="22">198</text></g>
<g id="n199" class="nd" transform="translate(620,1440)"><circle r="6.5"/><text x="8" y="22">199</text></g>
<g id="n200" class="nd" transform="translate(695,1440)"><circle r="6.5"/><text x="8" y="22">200</text></g>
</g>
</svg>
